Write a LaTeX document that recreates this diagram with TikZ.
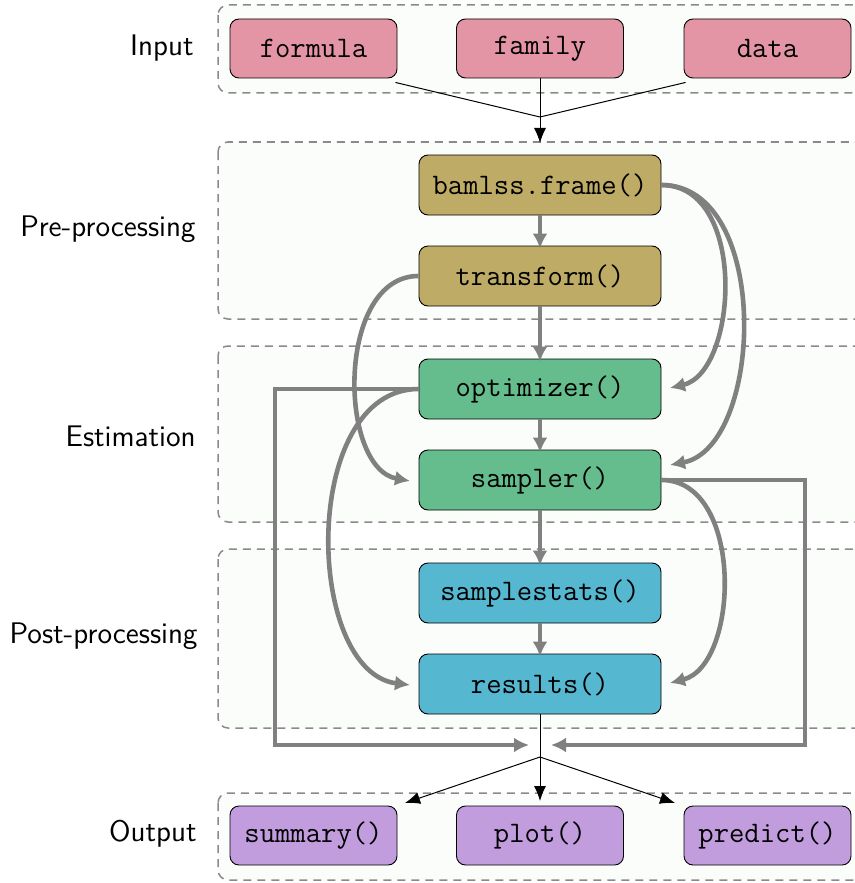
\documentclass[tikz,border=0pt]{standalone}
\usetikzlibrary{arrows.meta}
\definecolor{cin}{HTML}{E495A5}
\definecolor{cpre}{HTML}{BDAB66}
\definecolor{cest}{HTML}{65BC8C}
\definecolor{cpost}{HTML}{55B7D0}
\definecolor{cout}{HTML}{C29DDE}
\definecolor{bgc}{HTML}{FBFDFB}
\definecolor{dashc}{HTML}{8A8A8A}
\definecolor{garr}{HTML}{808080}
\begin{document}
\begin{tikzpicture}[x=0.5pt,y=-0.5pt,
  stage/.style={draw=dashc, dash pattern=on 4pt off 3pt, line width=0.75pt, rounded corners=5pt, fill=bgc},
  fn/.style={draw=black, line width=0.45pt, rounded corners=4.5pt, minimum width=121pt, minimum height=30pt, inner sep=0pt, font=\fontsize{14.9}{17}\selectfont\ttfamily},
  io/.style={fn, minimum width=83.5pt, minimum height=29.5pt},
  lab/.style={anchor=east, inner sep=0pt, font=\fontsize{14.9}{17}\selectfont\sffamily},
  garrow/.style={draw=garr, line width=2.3pt, -{Latex[length=7.5pt,width=7.5pt]}},
  barrow/.style={draw=black, line width=0.5pt, -{Latex[length=7.5pt,width=6pt]}},
  bline/.style={draw=black, line width=0.5pt}]
\useasboundingbox (0,0) rectangle (855,883);
\clip (0,0) rectangle (855,883);
% stage boxes
\path[stage] (218,5) rectangle (900,93);
\path[stage] (218,142) rectangle (900,319);
\path[stage] (218,346) rectangle (900,522);
\path[stage] (218,549) rectangle (900,728);
\path[stage] (218,793) rectangle (900,880);
% labels
\node[lab] (lin) at (194,48) {Input};
\node[lab] (lpre) at (196,229) {Pre-processing};
\node[lab] (lest) at (196,436) {Estimation};
\node[lab] (lpost) at (198,636) {Post-processing};
\node[lab] (lout) at (197,834) {Output};
% input nodes
\node[io, fill=cin] (formula) at (313.5,48.5) {formula};
\node[io, fill=cin] (family) at (540,48.5) {family};
\node[io, fill=cin] (data) at (767.5,48.5) {data};
% process nodes
\node[fn, fill=cpre] (bf) at (540,185) {bamlss.frame()};
\node[fn, fill=cpre] (tr) at (540,276) {transform()};
\node[fn, fill=cest] (opt) at (540,389) {optimizer()};
\node[fn, fill=cest] (smp) at (540,480) {sampler()};
\node[fn, fill=cpost] (ss) at (540,593) {samplestats()};
\node[fn, fill=cpost] (res) at (540,684) {results()};
% output nodes
\node[io, fill=cout] (summary) at (313.5,835.5) {summary()};
\node[io, fill=cout] (plot) at (540,835.5) {plot()};
\node[io, fill=cout] (predict) at (767.5,835.5) {predict()};
% coordinates
\coordinate (j1) at (540,117);
\coordinate (j1t) at (540,143);
\coordinate (j2) at (540,757);
\coordinate (tsum) at (405,803);
\coordinate (tplot) at (540,801);
\coordinate (tpred) at (675,803);
\coordinate (mL) at (529,745);
\coordinate (mR) at (551,745);
\coordinate (oR) at (670,388);
\coordinate (sR) at (670,465);
\coordinate (sL) at (410,481);
\coordinate (rL) at (410,685);
\coordinate (rR) at (670,683);
% input connectors
\draw[bline] ([xshift=-1pt,yshift=-2pt]formula.south east) -- (j1);
\draw[bline] ([xshift=1pt,yshift=-2pt]data.south west) -- (j1);
\draw[bline] (family.south) -- (j1);
\draw[barrow] (j1) -- (j1t);
% vertical gray arrows
\draw[garrow] (bf) -- ([yshift=-1.5pt]tr.north);
\draw[garrow] (tr) -- ([yshift=-1.5pt]opt.north);
\draw[garrow] (opt) -- ([yshift=-1.5pt]smp.north);
\draw[garrow] (smp) -- ([yshift=-1.5pt]ss.north);
\draw[garrow] (ss) -- ([yshift=-1.5pt]res.north);
% curves right
\draw[garrow] (bf.east) .. controls (748,185) and (738,372) .. (oR);
\draw[garrow] (bf.east) .. controls (772,185) and (764,447) .. (sR);
\draw[garrow] (smp.east) .. controls (744,480) and (740,665) .. (rR);
% curves left
\draw[garrow] (tr.west) .. controls (336,276) and (338,468) .. (sL);
\draw[garrow] (opt.west) .. controls (300,389) and (304,672) .. (rL);
% rectangular paths
\draw[garrow] (opt.west) -- (275,389) -- (275,745) -- (mL);
\draw[garrow] (smp.east) -- (805,480) -- (805,745) -- (mR);
% output connectors
\draw[bline] (res.south) -- (j2);
\draw[barrow] (j2) -- (tsum);
\draw[barrow] (j2) -- (tplot);
\draw[barrow] (j2) -- (tpred);
\end{tikzpicture}
\end{document}
